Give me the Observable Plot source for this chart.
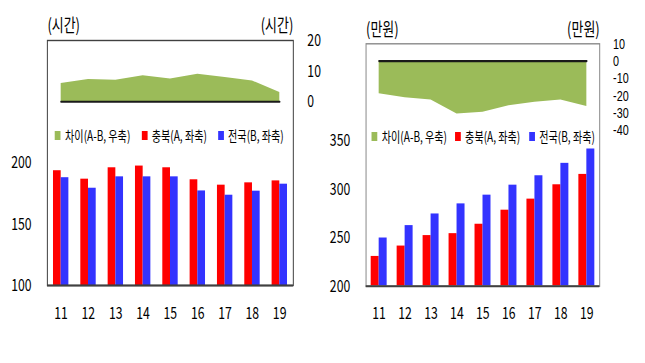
<!DOCTYPE html>
<html>
<head>
<meta charset="utf-8">
<script src="https://cdn.jsdelivr.net/npm/d3@7"></script>
<script src="https://cdn.jsdelivr.net/npm/@observablehq/plot@0.6"></script>
<style>
  html, body { margin: 0; padding: 0; background: #fff; overflow: hidden; }
  #wrap { position: relative; width: 896px; height: 363px; transform: scaleX(0.72); transform-origin: 0 0; font-family: "Noto Sans CJK KR", "Noto Sans", sans-serif; }
  .panel { position: absolute; top: 0; }
  .lg { position: absolute; top: 125px; height: 20px; display: flex; align-items: center; font-size: 14px; color: #000; white-space: nowrap; }
  .lg i { display: inline-block; width: 8px; height: 9px; margin-right: 6px; }
</style>
</head>
<body>
<div id="wrap"></div>
<script>
// ---- data ----
const years = ["11", "12", "13", "14", "15", "16", "17", "18", "19"];
const hoursChungbuk = [193.7, 186.8, 196.1, 197.5, 196.1, 186.3, 181.9, 183.8, 185.4];
const hoursNation   = [188.0, 179.4, 188.7, 188.7, 188.7, 177.2, 173.7, 177.0, 182.7];
const hoursGap      = [6.0, 7.3, 7.0, 8.5, 7.4, 9.0, 7.9, 6.8, 3.0];
const wageChungbuk  = [230.7, 241.4, 252.2, 254.2, 263.9, 278.4, 289.8, 304.6, 315.3];
const wageNation    = [249.7, 262.5, 274.5, 284.9, 293.9, 304.2, 313.9, 326.7, 341.5];
const wageGap       = [-18.9, -21.2, -22.4, -30.5, -29.5, -25.8, -23.7, -22.4, -26.2];
const hoursLeftTicks = [100, 150, 200];
const hoursRightTicks = [0, 10, 20];
const wageLeftTicks = [200, 250, 300, 350];
const wageRightTicks = [10, 0, -10, -20, -30, -40];
const legendLabels = ["차이(A-B, 우축)", "충북(A, 좌축)", "전국(B, 좌축)"];
const unitHours = "(시간)";
const unitWage = "(만원)";

const GREEN = "#9BBB59", RED = "#FF0000", BLUE = "#3333FF";
const FONT = "\"Noto Sans CJK KR\", \"Noto Sans\", sans-serif";

function panel(o) {
  const rows = years.map((year, i) => ({year, a: o.A[i], b: o.B[i], gap: o.gap[i]}));
  const toLeft = d3.scaleLinear().domain(o.rightDomain).range(o.leftDomain);
  const xOpts = {type: "band", domain: years, paddingInner: o.padIn, paddingOuter: o.padIn / 2, round: false};
  const xs = Plot.scale({x: {...xOpts, range: [o.marginLeft, o.width - o.marginRight]}});
  const half = xs.bandwidth / 2;
  return Plot.plot({
    width: o.width, height: 363,
    marginLeft: o.marginLeft, marginRight: o.marginRight, marginTop: o.marginTop, marginBottom: 363 - o.frameBottom,
    x: {...xOpts, axis: null, label: null},
    y: {domain: o.leftDomain, axis: null, label: null},
    style: {fontFamily: FONT, fontSize: "17px", color: "#000", background: "transparent", overflow: "visible"},
    marks: [
      Plot.areaY(rows, {x: "year", y1: () => toLeft(0), y2: d => toLeft(d.gap), fill: GREEN, curve: "linear"}),
      Plot.lineY(rows, {x: "year", y: () => toLeft(0), stroke: "#1a1a1a", strokeWidth: 2.2}),
      Plot.barY(rows, {x: "year", y1: o.leftDomain[0], y2: "a", fill: RED, insetRight: half}),
      Plot.barY(rows, {x: "year", y1: o.leftDomain[0], y2: "b", fill: BLUE, insetLeft: half}),
      Plot.frame({stroke: o.frameStroke, strokeWidth: 1.4}),
      Plot.ruleY([o.leftDomain[0]], {stroke: "#404040", strokeWidth: 2}),
      Plot.axisX({tickSize: 0, tickPadding: 21, fontSize: 17, label: null}),
      Plot.axisY(o.leftTicks, {anchor: "left", tickSize: 0, tickPadding: 22, fontSize: 17, label: null}),
      Plot.axisY(o.rightTicks.map(v => toLeft(v)), {anchor: "right", tickSize: 0, tickPadding: o.rightPad, fontSize: o.rightFont,
        fontFamily: o.rightFamily || FONT, label: null,
        tickFormat: u => String(Math.round(toLeft.invert(u)))}),
      Plot.text([o.unit], {text: d => d, frameAnchor: "top-left", textAnchor: "start", lineAnchor: "middle", dy: -14, fontSize: 18}),
      Plot.text([o.unit], {text: d => d, frameAnchor: "top-right", textAnchor: "end", lineAnchor: "middle", dy: -14, fontSize: 18})
    ]
  });
}

const wrap = document.getElementById("wrap");

const left = panel({
  width: 458, marginLeft: 65.3, marginRight: 51.1, marginTop: 40, frameBottom: 285,
  leftDomain: [100, 300], rightDomain: [-60, 20],
  A: hoursChungbuk, B: hoursNation, gap: hoursGap,
  leftTicks: hoursLeftTicks, rightTicks: hoursRightTicks, unit: unitHours,
  padIn: 0.437, frameStroke: "#404040", rightPad: 19.5, rightFont: 17
});
left.classList.add("panel");
left.style.left = "0px";
wrap.appendChild(left);

const right = panel({
  width: 438, marginLeft: 49.9, marginRight: 63.6, marginTop: 43.3, frameBottom: 285.7,
  leftDomain: [200, 450], rightDomain: [-130, 10],
  A: wageChungbuk, B: wageNation, gap: wageGap,
  leftTicks: wageLeftTicks, rightTicks: wageRightTicks, unit: unitWage,
  padIn: 0.385, frameStroke: "#8a8a8a", rightPad: 18.6, rightFont: 15,
  rightFamily: "\"Liberation Sans\", Arial, sans-serif"
});
right.classList.add("panel");
right.style.left = "458px";
wrap.appendChild(right);

// legends (HTML overlay)
const legendColors = [GREEN, RED, BLUE];
function legend(lefts, top) {
  legendLabels.forEach((lab, i) => {
    const d = document.createElement("div");
    d.className = "lg";
    d.style.left = lefts[i] + "px";
    d.style.top = top + "px";
    const sq = document.createElement("i");
    sq.style.background = legendColors[i];
    d.appendChild(sq);
    d.appendChild(document.createTextNode(lab));
    wrap.appendChild(d);
  });
}
legend([76.4, 196.8, 302.8], 125);
legend([516.3, 632, 735], 126);
</script>
</body>
</html>
